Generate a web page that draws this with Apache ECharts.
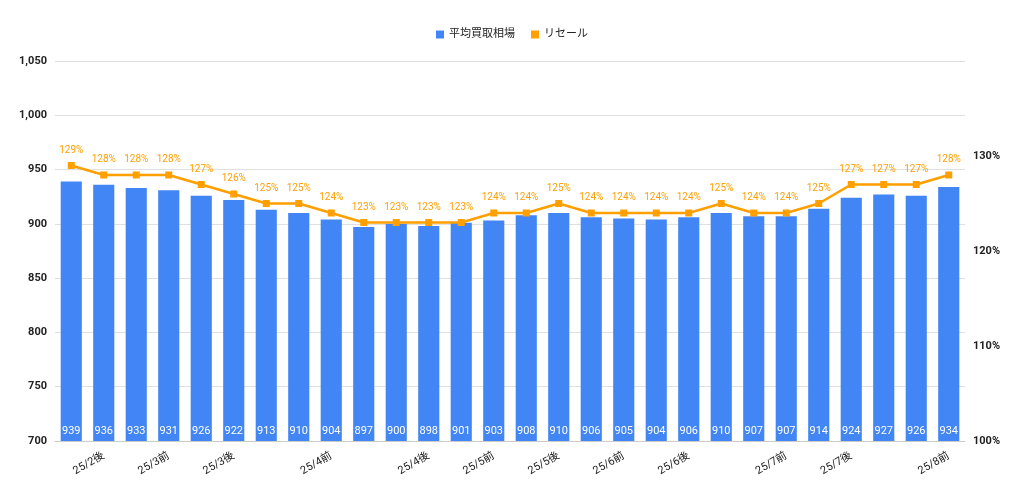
<!DOCTYPE html>
<html><head><meta charset="utf-8">
<script src="https://cdn.jsdelivr.net/npm/echarts@6/dist/echarts.min.js"></script>
<style>html,body{margin:0;background:#fff}#c{width:1024px;height:496px}</style>
</head><body><div id="c"></div>
<script>
const categories = ['', '25/2後', '', '25/3前', '', '25/3後', '', '', '25/4前', '', '', '25/4後', '', '25/5前',
  '', '25/5後', '', '25/6前', '', '25/6後', '', '', '25/7前', '', '25/7後', '', '', '25/8前'];
const avgPrice = [939, 936, 933, 931, 926, 922, 913, 910, 904, 897, 900, 898, 901, 903,
  908, 910, 906, 905, 904, 906, 910, 907, 907, 914, 924, 927, 926, 934];
const resale = [129, 128, 128, 128, 127, 126, 125, 125, 124, 123, 123, 123, 123, 124,
  124, 125, 124, 124, 124, 124, 125, 124, 124, 125, 127, 127, 127, 128];

const chart = echarts.init(document.getElementById('c'));
const font = 'Roboto, "Noto Sans CJK JP", sans-serif';
chart.setOption({
  animation: false,
  textStyle: { fontFamily: font },
  legend: {
    top: 24, left: 'center', itemWidth: 8, itemHeight: 8, itemGap: 16,
    textStyle: { fontSize: 11, color: '#222' },
    data: [{ name: '平均買取相場', icon: 'rect' }, { name: 'リセール', icon: 'rect' }]
  },
  grid: { left: 55, right: 59, top: 61, bottom: 55 },
  xAxis: {
    type: 'category', data: categories,
    axisLine: { lineStyle: { color: '#ccc' } }, axisTick: { show: false },
    axisLabel: { interval: 0, rotate: 30, fontSize: 11, color: '#222', margin: 14 }
  },
  yAxis: [{
    type: 'value', min: 700, max: 1050, interval: 50,
    axisLabel: { fontSize: 11, color: '#222', fontWeight: 'bold' },
    splitLine: { lineStyle: { color: '#e0e0e0' } }
  }, {
    type: 'value', min: 100, max: 140, interval: 10,
    axisLabel: { formatter: '{value}%', fontSize: 11, color: '#222', fontWeight: 'bold', showMaxLabel: false },
    splitLine: { show: false }
  }],
  series: [{
    name: '平均買取相場', type: 'bar', data: avgPrice, barWidth: '65%',
    itemStyle: { color: '#4285F4' },
    label: { show: true, position: 'insideBottom', color: '#fff', fontSize: 11, distance: 4 }
  }, {
    name: 'リセール', type: 'line', yAxisIndex: 1, data: resale,
    itemStyle: { color: '#FF9F00' }, lineStyle: { width: 2.5, color: '#FF9F00' },
    symbol: 'rect', symbolSize: 7,
    label: { show: true, position: 'top', formatter: '{c}%', color: '#FF9F00', fontSize: 10, distance: 7 }
  }]
});
</script></body></html>
